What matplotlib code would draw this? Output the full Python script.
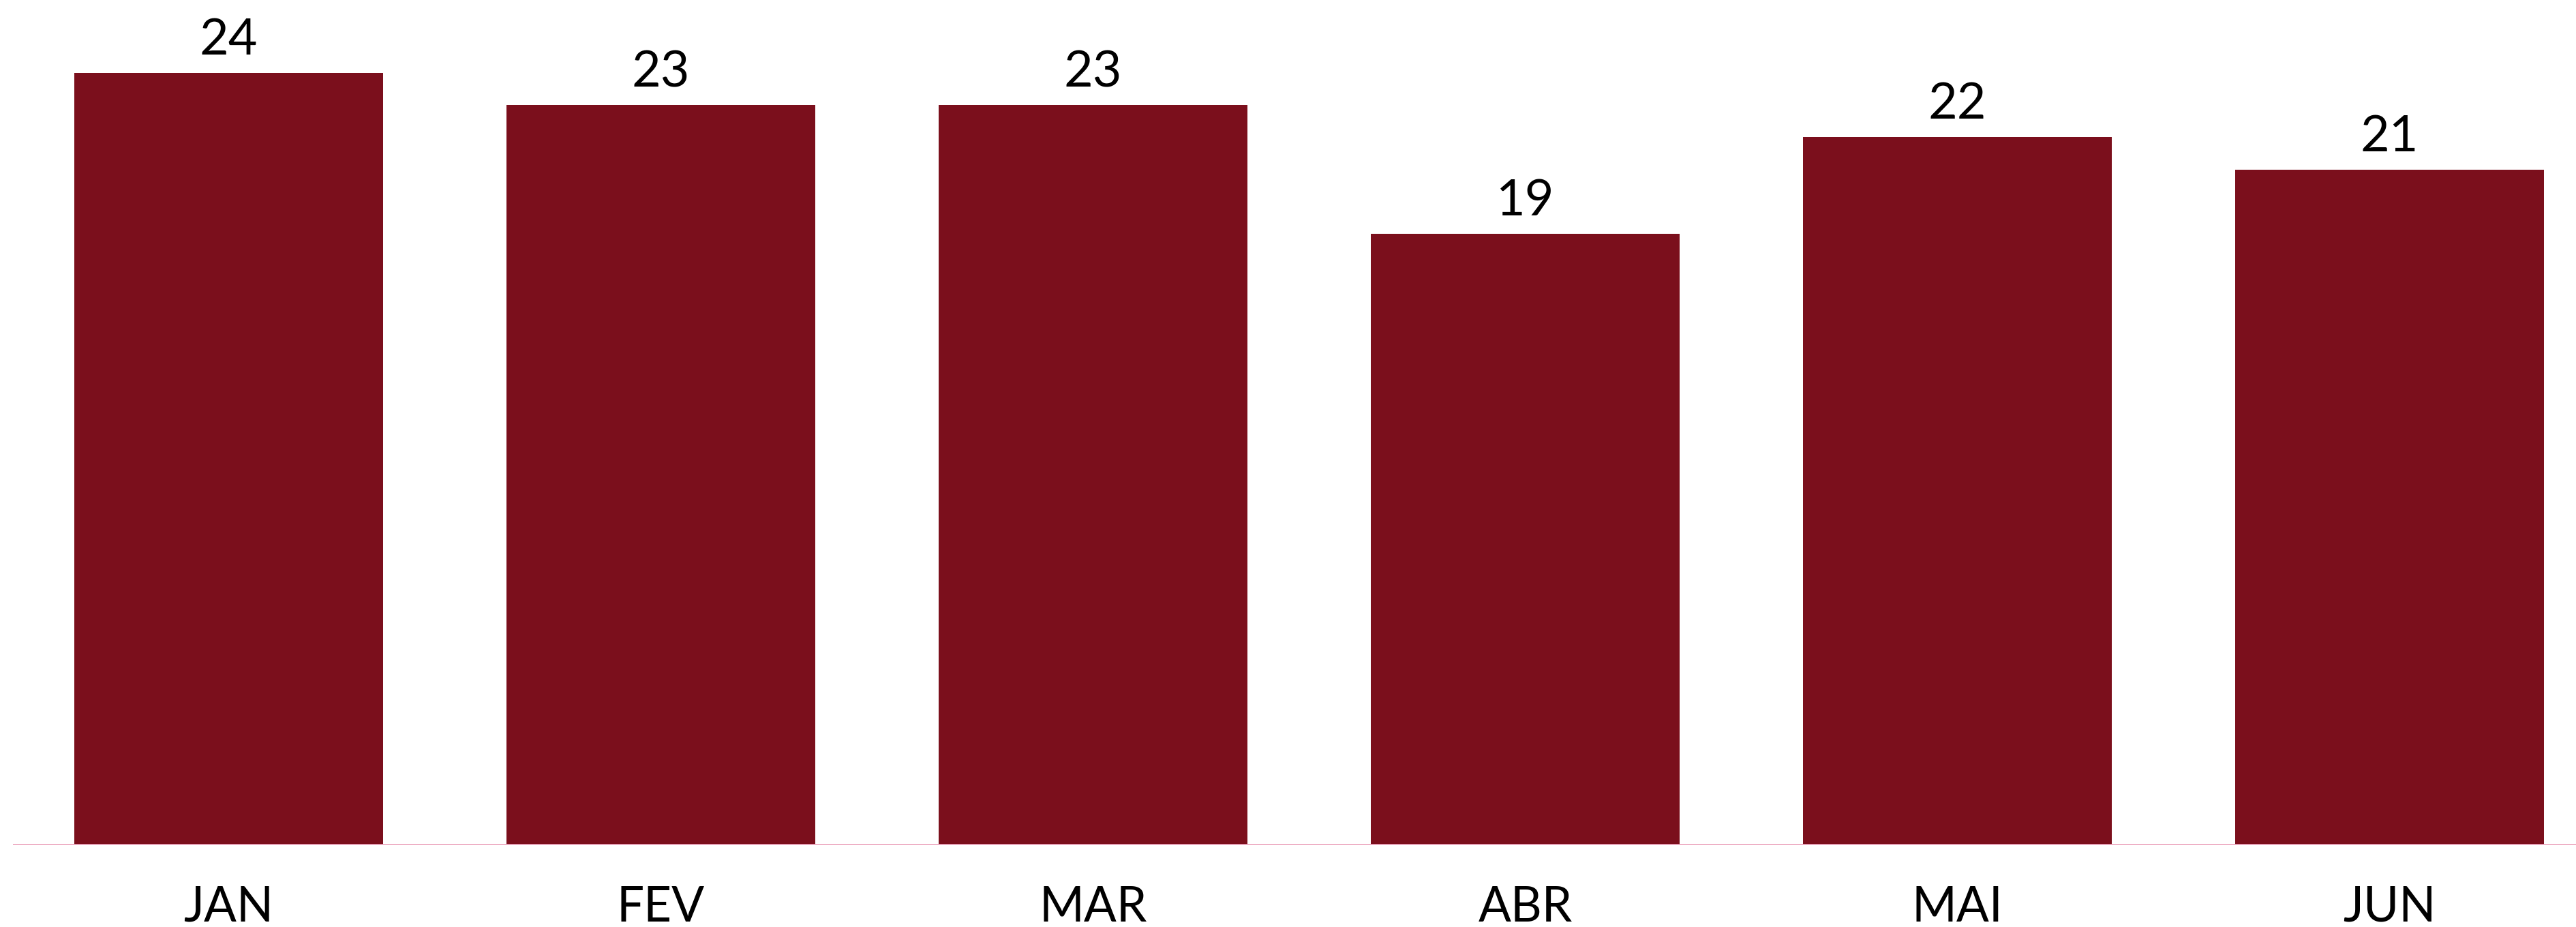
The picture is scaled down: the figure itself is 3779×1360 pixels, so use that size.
import matplotlib
matplotlib.use("Agg")
import matplotlib.pyplot as plt

# data
months = ["JAN", "FEV", "MAR", "ABR", "MAI", "JUN"]
values = [24, 23, 23, 19, 22, 21]

bar_color = "#7B0F1C"
line_color = "#DC5C88"

plt.rcParams["font.family"] = ["Lato", "DejaVu Sans"]

fig = plt.figure(figsize=(37.79, 13.6), dpi=100)
# axes placed so the baseline sits at y=1239 px and starts at x=19 px
ax = fig.add_axes([19 / 3779, 1 - 1239 / 1360, 1 - 19 / 3779, 1239 / 1360])

x = list(range(len(months)))
ax.bar(x, values, width=0.714, color=bar_color, zorder=2)
ax.axhline(0, color=line_color, linewidth=2, zorder=3)

ax.set_xlim(-0.499, 5.431)
ax.set_ylim(0, 26.27)

# value labels above bars
for xi, v in zip(x, values):
    ax.annotate(str(v), xy=(xi, v), xytext=(0, 27 * 0.72), textcoords="offset points",
                ha="center", va="baseline", fontsize=53, color="black")

# month labels below baseline
for xi, m in zip(x, months):
    ax.annotate(m, xy=(xi, 0), xytext=(0, -113 * 0.72), textcoords="offset points",
                ha="center", va="baseline", fontsize=51, color="black",
                annotation_clip=False)

ax.axis("off")

fig.savefig("out.png", dpi=100)
